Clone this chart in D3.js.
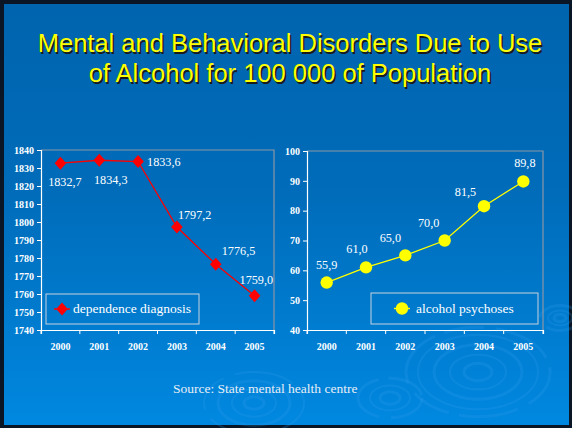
<!DOCTYPE html>
<html>
<head>
<meta charset="utf-8">
<script src="https://cdn.jsdelivr.net/npm/d3@7"></script>
<style>
  html, body { margin: 0; padding: 0; background: #0a1626; }
  svg { display: block; }
</style>
</head>
<body>
<svg id="chart" width="572" height="428"></svg>
<script>
// Years shared by both panels
const years = ["2000", "2001", "2002", "2003", "2004", "2005"];

// Dependence diagnosis per 100 000
const dependenceValues = [1832.7, 1834.3, 1833.6, 1797.2, 1776.5, 1759.0];
const dependenceTicks = [1740, 1750, 1760, 1770, 1780, 1790, 1800, 1810, 1820, 1830, 1840];

// Alcohol psychoses per 100 000
const psychosesValues = [55.9, 61.0, 65.0, 70.0, 81.5, 89.8];
const psychosesTicks = [40, 50, 60, 70, 80, 90, 100];

const titleLines = ["Mental and Behavioral Disorders Due to Use", "of Alcohol for 100 000 of Population"];
const sourceText = "Source: State mental health centre";

const svg = d3.select("#chart");
const W = 572, H = 428;
const fmt = v => v.toFixed(1).replace(".", ",");
const serif = "'Liberation Serif', 'DejaVu Serif', serif";

// Background
const defs = svg.append("defs");
const bg = defs.append("linearGradient").attr("id", "bg").attr("x1", 0).attr("y1", 0).attr("x2", 0).attr("y2", 1);
bg.append("stop").attr("offset", "0%").attr("stop-color", "#0064ae");
bg.append("stop").attr("offset", "45%").attr("stop-color", "#006cba");
bg.append("stop").attr("offset", "100%").attr("stop-color", "#0088e0");
const blur = defs.append("filter").attr("id", "ripple-blur");
blur.append("feGaussianBlur").attr("stdDeviation", 0.6);

svg.append("rect").attr("width", W).attr("height", H).attr("fill", "#0a1626");
svg.append("rect").attr("x", 4).attr("y", 4).attr("width", W - 7).attr("height", H - 7).attr("fill", "url(#bg)");

// Ripple decoration
const ripples = [
  { cx: 478, cy: 372, rs: [14, 28, 44, 60, 72] },
  { cx: 390, cy: 398, rs: [10, 20, 32] },
  { cx: 254, cy: 403, rs: [10, 22, 36, 50] },
  { cx: 560, cy: 318, rs: [6, 12, 20] }
];
const rg = svg.append("g").attr("filter", "url(#ripple-blur)");
ripples.forEach(r => {
  r.rs.forEach((rad, i) => {
    rg.append("ellipse")
      .attr("cx", r.cx).attr("cy", r.cy)
      .attr("rx", rad).attr("ry", rad * 0.62)
      .attr("fill", "none")
      .attr("stroke", "#3aa0ee")
      .attr("stroke-opacity", 0.2)
      .attr("stroke-width", i % 2 ? 2 : 3)
      .attr("stroke-dasharray", i === r.rs.length - 1 ? "40 12 60 10" : null);
  });
});

// Title
const title = svg.append("g")
  .attr("font-family", "'Liberation Sans', Arial, sans-serif")
  .attr("font-size", 25.5)
  .attr("text-anchor", "middle");
titleLines.forEach((t, i) => {
  title.append("text").attr("x", 290 + 1.5).attr("y", 52 + i * 30 + 1.5).attr("fill", "#1a1a1a").text(t);
  title.append("text").attr("x", 290).attr("y", 52 + i * 30).attr("fill", "#ffff00").text(t);
});

// Source
svg.append("text")
  .attr("x", 173).attr("y", 393)
  .attr("font-family", serif).attr("font-size", 13.5)
  .attr("fill", "#e8eef6")
  .text(sourceText);

function panel(opts) {
  const { left, right, top, bottom, domain, ticks, values, color, marker, labelPos, legend, legendText } = opts;
  const g = svg.append("g");
  const x = d3.scaleBand().domain(years).range([left, right]);
  const y = d3.scaleLinear().domain(domain).range([bottom, top]);

  // Plot frame (top and right edges)
  g.append("path")
    .attr("d", `M${left},${top}H${right}V${bottom}`)
    .attr("fill", "none").attr("stroke", "#8a96a6").attr("stroke-width", 1.2);

  // Axes
  const yAxis = g.append("g").attr("transform", `translate(${left},0)`)
    .call(d3.axisLeft(y).tickValues(ticks).tickFormat(d3.format("d")).tickSize(4).tickPadding(3));
  const xAxis = g.append("g").attr("transform", `translate(0,${bottom})`)
    .call(d3.axisBottom(x).tickSize(4).tickPadding(9));
  // Ticks at band edges
  xAxis.selectAll(".tick line").remove();
  years.concat(["end"]).forEach((yr, i) => {
    const xx = i < years.length ? x(yr) : right;
    xAxis.append("line").attr("x1", xx).attr("x2", xx).attr("y1", 0).attr("y2", 4).attr("stroke", "#ffffff");
  });
  [yAxis, xAxis].forEach(a => {
    a.select(".domain").attr("stroke", "#ffffff").attr("stroke-width", 1.2);
    a.selectAll("line").attr("stroke", "#ffffff");
    a.selectAll("text").attr("fill", "#ffffff").attr("font-family", serif).attr("font-size", 10).attr("font-weight", "bold");
  });

  const cx = d => x(d) + x.bandwidth() / 2;
  const line = d3.line().x((d, i) => cx(years[i])).y(d => y(d));
  g.append("path").datum(values).attr("d", line).attr("fill", "none").attr("stroke", color).attr("stroke-width", 1.3);

  const drawMarker = (sel, px, py) => {
    if (marker === "diamond") {
      sel.append("path")
        .attr("d", "M0,-6.5L5.8,0L0,6.5L-5.8,0Z")
        .attr("transform", `translate(${px},${py})`)
        .attr("fill", color);
    } else {
      sel.append("circle").attr("cx", px).attr("cy", py).attr("r", 6.2).attr("fill", color);
    }
  };
  values.forEach((v, i) => drawMarker(g, cx(years[i]), y(v)));

  // Value labels
  values.forEach((v, i) => {
    const [dx, dy, anchor] = labelPos[i];
    g.append("text")
      .attr("x", cx(years[i]) + dx).attr("y", y(v) + dy)
      .attr("text-anchor", anchor)
      .attr("font-family", serif).attr("font-size", 12.2)
      .attr("fill", "#ffffff")
      .text(fmt(v));
  });

  // Legend
  const [lx, ly0, lw, lh, mOff, tOff] = legend;
  const lg = g.append("g");
  lg.append("rect").attr("x", lx).attr("y", ly0).attr("width", lw).attr("height", lh)
    .attr("fill", "none").attr("stroke", "#c8d2de").attr("stroke-width", 1);
  const ly = ly0 + lh / 2;
  lg.append("line").attr("x1", lx + mOff - 8).attr("x2", lx + mOff + 8).attr("y1", ly).attr("y2", ly).attr("stroke", color).attr("stroke-width", 1.5);
  drawMarker(lg, lx + mOff, ly);
  lg.append("text").attr("x", lx + tOff).attr("y", ly + 4)
    .attr("font-family", serif).attr("font-size", 13.5).attr("fill", "#ffffff")
    .text(legendText);
}

panel({
  left: 41, right: 274, top: 150, bottom: 330,
  domain: [1740, 1840], ticks: dependenceTicks, values: dependenceValues,
  color: "#ff0000", marker: "diamond",
  labelPos: [[4.5, 23, "middle"], [11.5, 24, "middle"], [9, 4, "start"], [1, -8, "start"], [6, -9, "start"], [-15, -12, "start"]],
  legend: [46, 294, 153, 30, 16, 27], legendText: "dependence diagnosis"
});

panel({
  left: 307, right: 543, top: 151, bottom: 330,
  domain: [40, 100], ticks: psychosesTicks, values: psychosesValues,
  color: "#ffff00", marker: "circle",
  labelPos: [[0, -14, "middle"], [-9, -14, "middle"], [-15, -13, "middle"], [-16, -14, "middle"], [-18.5, -10, "middle"], [1.5, -14, "middle"]],
  legend: [371, 293, 167, 31, 31, 45], legendText: "alcohol psychoses"
});
</script>
</body>
</html>
